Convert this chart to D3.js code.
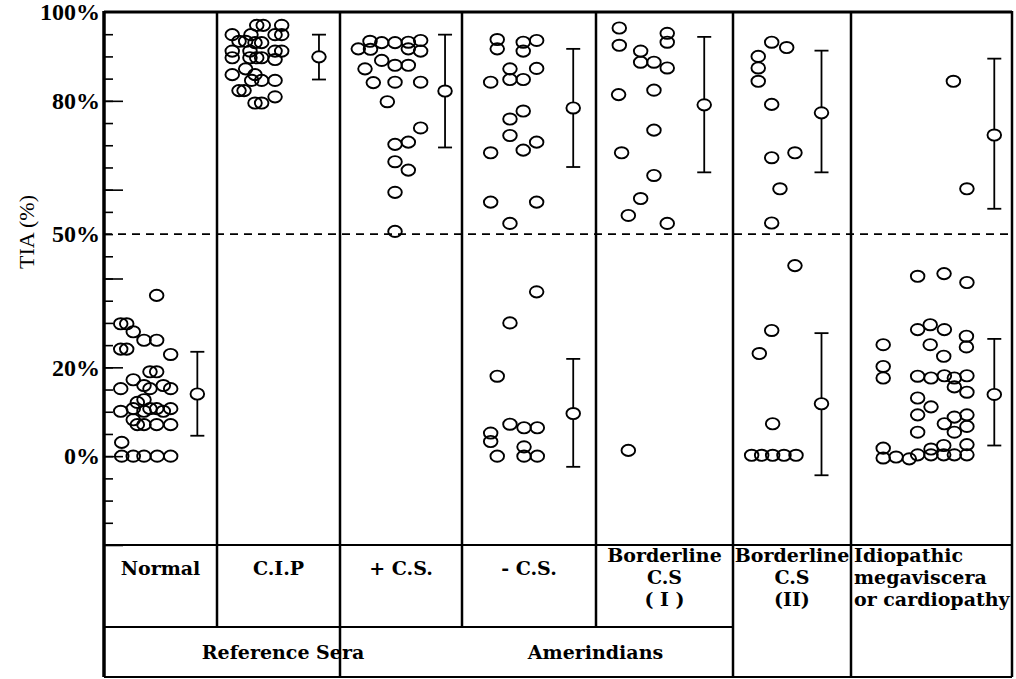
<!DOCTYPE html>
<html lang="en">
<head>
	<meta charset="UTF-8">
	<script src="https://cdn.jsdelivr.net/npm/d3@7"></script>
	<title>TIA (%)</title>
	<style>
		body { margin: 0; background: white; }
		svg { display: block; }
		.tick text { font-family: "Liberation Serif", serif; font-weight: bold; font-size: 24px; }
		.cell { font-family: "DejaVu Serif", serif; font-weight: bold; font-size: 19px; }
	</style>
</head>
<body>
	<script>
		// ---------- data (jitter = horizontal place inside its panel, 0..1) ----------
		const columns = ["Normal", "C.I.P", "+ C.S.", "- C.S.", "Borderline C.S (I)", "Borderline C.S (II)", "Idiopathic"];

		const normalPts = [[.466, 36.2], [.148, 29.8], [.201, 29.8], [.259, 28.0], [.354, 26.1], [.466, 26.1],
			[.148, 24.1], [.201, 24.1], [.590, 22.9], [.407, 19.0], [.466, 19.0], [.259, 17.2], [.148, 15.2],
			[.354, 15.9], [.407, 15.2], [.525, 15.9], [.590, 15.2], [.295, 12.1], [.354, 12.7],
			[.148, 10.1], [.259, 10.7], [.354, 10.1], [.407, 10.7], [.466, 10.7], [.525, 10.1], [.590, 10.7],
			[.259, 8.2], [.295, 7.1], [.354, 7.1], [.466, 7.1], [.590, 7.1], [.157, 3.1],
			[.157, 0], [.259, 0], [.354, 0], [.471, 0], [.590, 0]];
		const cipPts = [[.323, 97.0], [.376, 97.0], [.526, 97.0], [.124, 94.9], [.276, 94.9], [.472, 94.9], [.526, 94.9],
			[.179, 93.4], [.233, 93.4], [.309, 93.1], [.363, 93.1], [.124, 91.2], [.268, 91.2], [.472, 91.2], [.526, 91.2],
			[.124, 89.7], [.268, 89.7], [.323, 89.7], [.363, 89.7], [.472, 89.3], [.233, 87.2], [.124, 85.9], [.309, 85.9],
			[.282, 84.6], [.363, 84.6], [.472, 84.6], [.179, 82.3], [.22, 82.3], [.472, 80.9], [.309, 79.5], [.363, 79.5]];
		const posCsPts = [[.246, 93.4], [.342, 93.1], [.451, 93.1], [.56, 93.2], [.661, 93.6], [.15, 91.7], [.25, 91.6],
			[.56, 91.7], [.661, 91.2], [.342, 89.1], [.451, 88.0], [.56, 88.0], [.205, 87.2], [.273, 84.1], [.451, 84.2],
			[.661, 84.2], [.388, 79.8], [.661, 73.9], [.451, 70.2], [.56, 70.7], [.451, 66.3], [.56, 64.4],
			[.451, 59.4], [.451, 50.6]];
		const negCsPts = [[.263, 93.8], [.263, 91.7], [.457, 93.2], [.457, 91.2], [.557, 93.6], [.358, 87.2], [.557, 87.3],
			[.214, 84.2], [.358, 84.8], [.457, 84.8], [.457, 77.7], [.358, 75.9], [.358, 72.2], [.557, 70.7], [.457, 68.9],
			[.214, 68.3], [.214, 57.2], [.557, 57.2], [.358, 52.4], [.557, 37.0], [.358, 30.0], [.263, 18.0],
			[.358, 7.2], [.463, 6.4], [.562, 6.4], [.214, 5.2], [.214, 3.3], [.463, 2.1], [.263, 0], [.463, 0], [.562, 0]];
		const border1Pts = [[.17, 96.4], [.17, 92.5], [.326, 91.2], [.326, 88.7], [.423, 88.7], [.52, 87.4], [.52, 95.2],
			[.52, 93.2], [.165, 81.4], [.423, 82.4], [.423, 73.4], [.187, 68.3], [.423, 63.2], [.326, 58.0], [.236, 54.2],
			[.52, 52.4], [.236, 1.3]];
		const border2Pts = [[.328, 93.2], [.455, 92.0], [.214, 90.0], [.214, 87.4], [.214, 84.4], [.328, 79.2], [.328, 67.2],
			[.525, 68.3], [.398, 60.2], [.328, 52.5], [.525, 42.9], [.328, 28.3], [.223, 23.1], [.336, 7.3],
			[.158, 0.2], [.243, 0.2], [.336, 0.2], [.432, 0.2], [.534, 0.2]];
		const idioPts = [[.636, 84.4], [.72, 60.2], [.414, 40.5], [.578, 41.1], [.72, 39.1], [.414, 28.5], [.492, 29.6],
			[.58, 28.5], [.717, 27.0], [.717, 24.6], [.2, 25.1], [.492, 25.1], [.576, 22.5], [.2, 20.2], [.2, 17.6],
			[.414, 18.0], [.497, 17.6], [.58, 18.1], [.642, 17.6], [.72, 18.1], [.642, 15.6], [.72, 14.4],
			[.414, 13.1], [.497, 11.1], [.414, 9.3], [.642, 8.8], [.72, 9.3], [.58, 7.3], [.72, 6.7], [.642, 5.4],
			[.414, 5.4], [.2, 1.8], [.2, -0.4], [.28, -0.2], [.362, -0.6], [.414, 0.3], [.497, 1.6], [.497, 0.3],
			[.576, 2.4], [.576, 0.3], [.642, 0.3], [.72, 2.6], [.72, 0.3]];
		const allPts = [normalPts, cipPts, posCsPts, negCsPts, border1Pts, border2Pts, idioPts];

		// mean with range: [panel, jitter, mean, low, high]
		const meanBars = [[0, .826, 14.0, 4.6, 23.5], [1, .829, 89.9, 84.8, 94.9], [2, .861, 82.2, 69.5, 94.9],
			[3, .83, 78.4, 65.1, 91.7], [3, .83, 9.6, -2.4, 21.9], [4, .79, 79.1, 63.9, 94.4],
			[5, .75, 77.3, 63.9, 91.3], [5, .75, 11.8, -4.3, 27.7], [6, .89, 72.3, 55.7, 89.5], [6, .89, 13.9, 2.4, 26.4]];

		const yLabelTicks = [0, 20, 50, 80, 100];
		const yMajorTicks = [-20, 0, 20, 40, 60, 80];
		const yMinorTicks = d3.range(-15, 100, 5);

		const row1Labels = [["Normal"], ["C.I.P"], ["+ C.S."], ["- C.S."], ["Borderline", "C.S", "( I )"],
			["Borderline", "C.S", "(II)"], ["Idiopathic", "megaviscera", "or cardiopathy"]];
		const row2Labels = [["Reference Sera", 0, 2], ["Amerindians", 2, 5]];

		// ---------- layout ----------
		const edges = [104, 217, 340, 462, 596, 733, 851, 1012];
		const plotTop = 12, plotBottom = 545, rowMid = 627, tableBottom = 677;

		const y = d3.scaleLinear().domain([-20, 100]).range([plotBottom, plotTop]);
		const xPanel = edges.slice(0, -1).map((e, i) => d3.scaleLinear().domain([0, 1]).range([e, edges[i + 1]]));

		const svg = d3.select("body").append("svg")
			.attr("width", 1016)
			.attr("height", 679);

		// minor and major ticks pointing into the plot
		svg.append("g")
			.attr("transform", `translate(${edges[0]},0)`)
			.call(d3.axisRight(y).tickValues(yMinorTicks).tickSize(9).tickFormat(""))
			.call(g => g.select(".domain").remove())
			.selectAll("line").attr("stroke-width", 1.6);
		svg.append("g")
			.attr("transform", `translate(${edges[0]},0)`)
			.call(d3.axisRight(y).tickValues(yMajorTicks).tickSize(19).tickFormat(""))
			.call(g => g.select(".domain").remove())
			.selectAll("line").attr("stroke-width", 1.6);
		svg.append("g")
			.attr("transform", `translate(${edges[0] - 2},0)`)
			.call(d3.axisLeft(y).tickValues(yLabelTicks).tickSize(0).tickPadding(2).tickFormat(d => d + "%"))
			.call(g => g.select(".domain").remove())
			.selectAll("text").attr("fill", "black");

		svg.append("text")
			.attr("transform", `translate(34,232) rotate(-90)`)
			.attr("text-anchor", "middle")
			.style("font-family", "Liberation Serif, serif")
			.style("font-size", "22px")
			.text("TIA (%)");

		// dashed 50% line
		svg.append("line")
			.attr("x1", edges[0]).attr("x2", edges[7])
			.attr("y1", y(50)).attr("y2", y(50))
			.attr("stroke", "black").attr("stroke-width", 1.6)
			.attr("stroke-dasharray", "8,6");

		// panel frame
		const frame = svg.append("g").attr("stroke", "black").attr("fill", "none");
		frame.append("line").attr("x1", edges[0]).attr("x2", edges[7]).attr("y1", plotTop).attr("y2", plotTop).attr("stroke-width", 3);
		frame.selectAll(".divider")
			.data(edges.slice(1, -1))
			.enter().append("line")
			.attr("x1", d => d).attr("x2", d => d)
			.attr("y1", plotTop).attr("y2", rowMid)
			.attr("stroke-width", 2.5);
		frame.append("line").attr("x1", edges[0]).attr("x2", edges[0]).attr("y1", plotTop - 1).attr("y2", tableBottom).attr("stroke-width", 3.5);
		frame.append("line").attr("x1", edges[7]).attr("x2", edges[7]).attr("y1", plotTop - 1).attr("y2", tableBottom).attr("stroke-width", 2.5);

		// table lines
		frame.append("line").attr("x1", edges[0]).attr("x2", edges[7]).attr("y1", plotBottom).attr("y2", plotBottom).attr("stroke-width", 2.2);
		frame.append("line").attr("x1", edges[0]).attr("x2", edges[5]).attr("y1", rowMid).attr("y2", rowMid).attr("stroke-width", 2.2);
		frame.append("line").attr("x1", edges[0]).attr("x2", edges[7]).attr("y1", tableBottom).attr("y2", tableBottom).attr("stroke-width", 2.2);
		frame.selectAll(".lower")
			.data([edges[2], edges[5], edges[6]])
			.enter().append("line")
			.attr("x1", d => d).attr("x2", d => d)
			.attr("y1", rowMid).attr("y2", tableBottom)
			.attr("stroke-width", 2.5);

		// points
		allPts.forEach((pts, i) => {
			svg.append("g")
				.selectAll("ellipse")
				.data(pts)
				.enter().append("ellipse")
				.attr("cx", d => xPanel[i](d[0]))
				.attr("cy", d => y(d[1]))
				.attr("rx", 6.8).attr("ry", 5.6)
				.attr("fill", "none").attr("stroke", "black").attr("stroke-width", 1.9);
		});

		// mean +/- range
		const bars = svg.append("g").selectAll("g")
			.data(meanBars)
			.enter().append("g")
			.attr("transform", d => `translate(${xPanel[d[0]](d[1])},0)`);
		bars.append("line").attr("y1", d => y(d[3])).attr("y2", d => y(d[4]))
			.attr("stroke", "black").attr("stroke-width", 1.8);
		bars.append("line").attr("x1", -7).attr("x2", 7).attr("y1", d => y(d[3])).attr("y2", d => y(d[3]))
			.attr("stroke", "black").attr("stroke-width", 1.8);
		bars.append("line").attr("x1", -7).attr("x2", 7).attr("y1", d => y(d[4])).attr("y2", d => y(d[4]))
			.attr("stroke", "black").attr("stroke-width", 1.8);
		bars.append("ellipse").attr("cy", d => y(d[2])).attr("rx", 6.8).attr("ry", 5.6)
			.attr("fill", "white").attr("stroke", "black").attr("stroke-width", 1.9);

		// table labels
		row1Labels.forEach((lines, i) => {
			const left = i === 6;
			const t = svg.append("text")
				.attr("class", "cell")
				.attr("text-anchor", left ? "start" : "middle")
				.attr("x", left ? edges[i] + 3 : (edges[i] + edges[i + 1]) / 2)
				.attr("y", lines.length === 1 ? 575 : 562);
			lines.forEach((l, k) => {
				t.append("tspan")
					.attr("x", left ? edges[i] + 3 : (edges[i] + edges[i + 1]) / 2)
					.attr("dy", k === 0 ? 0 : 22)
					.text(l);
			});
		});
		row2Labels.forEach(d => {
			svg.append("text")
				.attr("class", "cell")
				.attr("text-anchor", "middle")
				.attr("x", (edges[d[1]] + edges[d[2] + 1]) / 2)
				.attr("y", 659)
				.text(d[0]);
		});
	</script>
</body>
</html>
